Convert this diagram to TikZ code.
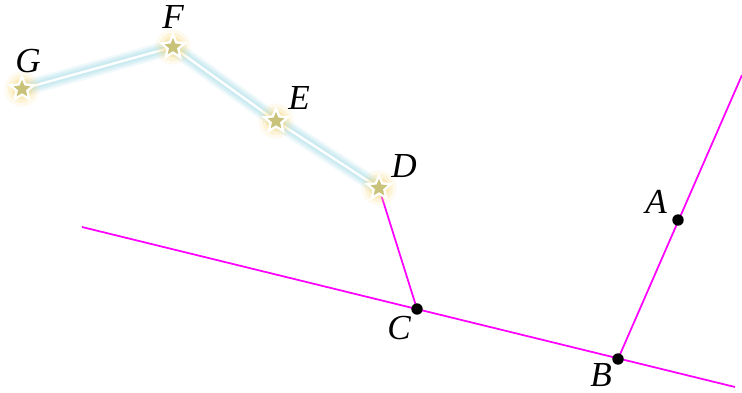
\documentclass[tikz,border=0pt]{standalone}
\usepackage{fontspec}
\setmainfont{Liberation Serif}
\usetikzlibrary{shapes.geometric}
\definecolor{magenta}{HTML}{FF00FF}
\definecolor{glow}{HTML}{BFE6EE}
\definecolor{halo}{HTML}{F7D77A}
\definecolor{starfill}{HTML}{C9C27A}
\tikzset{
  pt/.style={circle,fill=black,inner sep=0pt,minimum size=6.5pt},
  lbl/.style={font=\fontsize{20}{22}\selectfont\itshape,inner sep=1pt},
  starnode/.style={star,star points=5,star point ratio=2.2,minimum size=14pt,inner sep=0pt,fill=starfill,draw=white,line width=1.3pt},
  ln/.style={magenta,line width=1pt}
}
\begin{document}
\begin{tikzpicture}[x=0.02cm,y=-0.02cm]
\useasboundingbox (0,0) rectangle (742,392);
% points
\coordinate (G) at (22,89);\coordinate (F) at (173,47);\coordinate (E) at (276,121);\coordinate (D) at (379,188);
\coordinate (C) at (417,309);\coordinate (B) at (618,359);\coordinate (A) at (678,220);
\coordinate (l1) at (82,227);\coordinate (l2) at (735,387);\coordinate (l3) at (742,75);
% magenta lines
\draw[ln] (l1)--(l2);
\draw[ln] (B)--(l3);
\draw[ln] (D)--(C);
% glowing chain
\foreach \w/\o in {9/.25,6.5/.4,4/.6}
  \draw[glow,line width=\w pt,opacity=\o,line join=round,line cap=round] (G)--(F)--(E)--(D);
\draw[white,line width=1.3pt,line join=round] (G)--(F)--(E)--(D);
% stars
\foreach \p in {G,F,E,D}{
  \foreach \r/\o in {10/.12,8/.2,6/.3}
    \fill[halo,opacity=\o] (\p) circle (\r pt);
  \node[starnode] (s\p) at (\p) {};
}
\node[pt] (nA) at (A) {};\node[pt] (nB) at (B) {};\node[pt] (nC) at (C) {};
% labels
\node[lbl] (tG) at (28,61) {G};\node[lbl] (tF) at (173,17) {F};\node[lbl] (tE) at (299,98) {E};
\node[lbl] (tD) at (404,166) {D};\node[lbl] (tA) at (656,202) {A};\node[lbl] (tC) at (399,328) {C};
\node[lbl] (tB) at (601,375) {B};
\end{tikzpicture}
\end{document}
